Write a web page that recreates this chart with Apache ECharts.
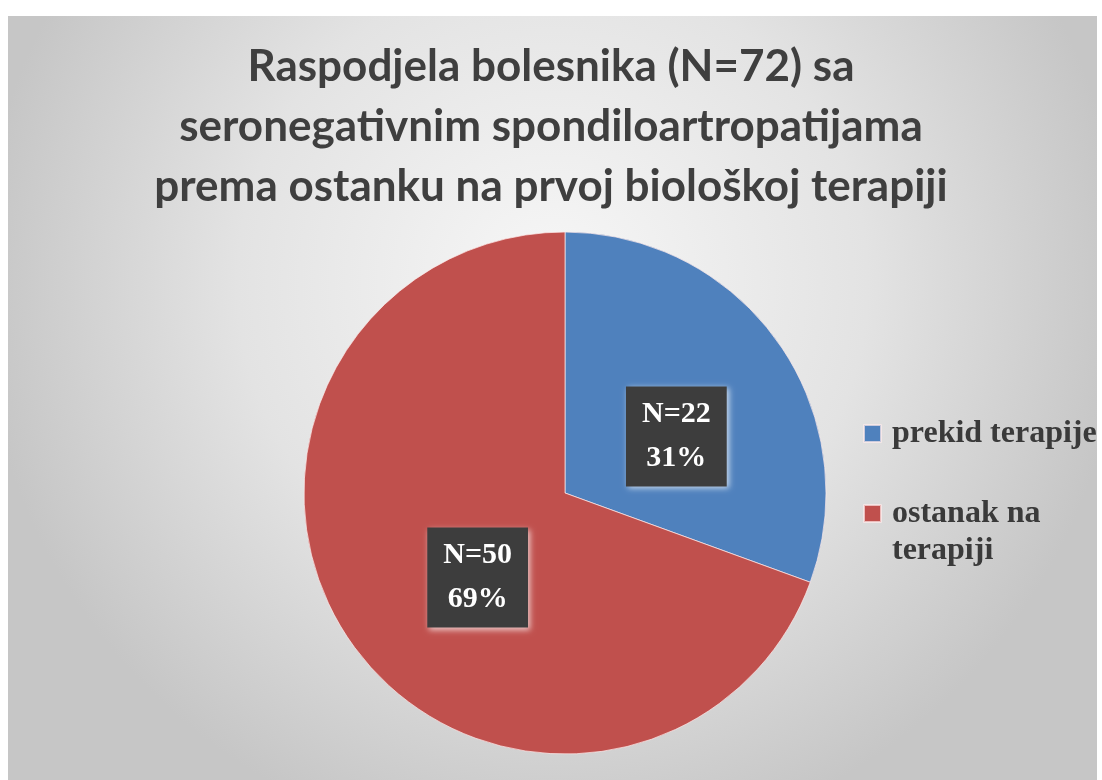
<!DOCTYPE html>
<html>
<head>
<meta charset="utf-8">
<script src="https://cdn.jsdelivr.net/npm/echarts@6/dist/echarts.min.js"></script>
<style>
  html, body { margin: 0; padding: 0; background: #fff; }
  #chart { width: 1102px; height: 780px; }
</style>
</head>
<body>
<div id="chart"></div>
<script>
// podaci
const categories = ['prekid terapije', 'ostanak na terapiji']
const counts = [22, 50]
const colors = ['#4f81bd', '#c0504d']
const titleLines = [
  'Raspodjela bolesnika (N=72) sa',
  'seronegativnim spondiloartropatijama',
  'prema ostanku na prvoj biološkoj terapiji',
]
// pomak natpisa unutar kriški
const labelOffsets = [[2, 20], [22, 8]]

const chart = echarts.init(document.getElementById('chart'))

const serif = '"Liberation Serif", "Times New Roman", serif'

const option = {
  backgroundColor: '#ffffff',
  animation: false,
  graphic: [
    {
      type: 'rect',
      z: -10,
      shape: { x: 8, y: 16, width: 1089, height: 764 },
      style: {
        fill: {
          type: 'radial',
          x: 0.5,
          y: 0.35,
          r: 0.75,
          colorStops: [
            { offset: 0, color: '#f7f7f7' },
            { offset: 0.55, color: '#e3e3e3' },
            { offset: 1, color: '#c6c6c6' },
          ],
        },
      },
    },
  ],
  title: {
    text: titleLines.join('\n'),
    left: 'center',
    top: 32,
    textStyle: {
      fontFamily: 'Lato, "Open Sans", sans-serif',
      fontWeight: 'bold',
      fontSize: 44,
      lineHeight: 60,
      color: '#3f3f3f',
    },
  },
  legend: {
    orient: 'vertical',
    left: 858,
    top: 410,
    itemWidth: 17,
    itemHeight: 17,
    itemGap: 6,
    icon: 'rect',
    data: categories,
    formatter: (name) => (name === 'ostanak na terapiji' ? '\nostanak na\nterapiji' : name),
    textStyle: {
      fontFamily: serif,
      fontWeight: 'bold',
      fontSize: 32,
      lineHeight: 37,
      color: '#3a3a3a',
      padding: [0, 0, 0, 6],
    },
  },
  series: [
    {
      type: 'pie',
      center: [565, 493],
      radius: 261,
      startAngle: 90,
      clockwise: true,
      percentPrecision: 0,
      silent: true,
      itemStyle: {
        borderColor: 'rgba(255,235,235,0.7)',
        borderWidth: 1,
      },
      label: {
        position: 'inside',
        formatter: 'N={c}\n{d}%',
        fontFamily: serif,
        fontWeight: 'bold',
        fontSize: 30,
        lineHeight: 44,
        color: '#ffffff',
        backgroundColor: '#3d3d3d',
        padding: [6, 16],
        shadowColor: 'rgba(255,255,255,0.7)',
        shadowBlur: 6,
        shadowOffsetX: 2,
        shadowOffsetY: 2,
      },
      labelLine: { show: false },
      data: categories.map((name, i) => ({
        name,
        value: counts[i],
        itemStyle: { color: colors[i] },
        label: { offset: labelOffsets[i] },
      })),
    },
  ],
}

chart.setOption(option)
</script>
</body>
</html>
